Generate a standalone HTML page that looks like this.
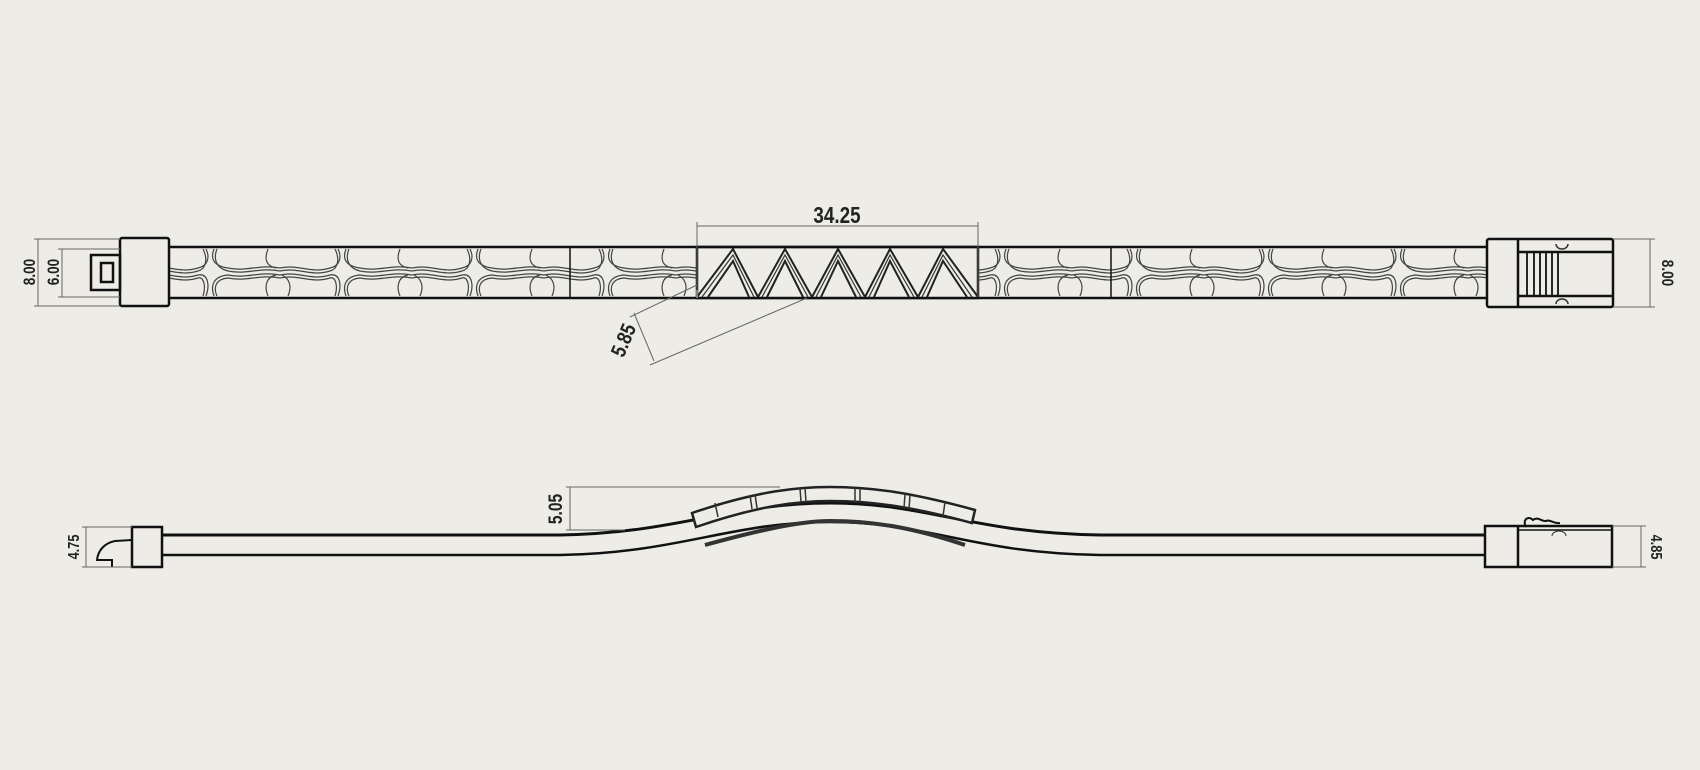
<!DOCTYPE html>
<html><head><meta charset="utf-8"><style>
html,body{margin:0;padding:0;background:#edece7;}
svg{display:block}
text{font-family:"Liberation Sans",sans-serif;font-weight:bold;fill:#222;}
</style></head><body>
<svg width="1700" height="770" viewBox="0 0 1700 770" xmlns="http://www.w3.org/2000/svg">
<defs>
<pattern id="wv" x="148" y="247" width="132" height="51" patternUnits="userSpaceOnUse">
<g fill="none" stroke="#444" stroke-width="1.2">
<path d="M0 21 C20 17 30 27 50 21 C60 19 62 10 58 2 M66 2 C62 12 66 19 80 21 C100 25 110 17 132 21"/>
<path d="M0 24 C20 20 30 30 50 24 C58 22 60 12 55 2 M69 2 C65 12 68 21 80 24 C100 28 110 20 132 24"/>
<path d="M0 28 C20 24 30 34 50 28 C60 26 62 38 58 49 M66 49 C62 38 66 29 80 28 C100 32 110 24 132 28"/>
<path d="M0 31 C20 27 30 37 50 31 C56 29 58 40 55 49 M69 49 C65 40 68 32 80 31 C100 35 110 27 132 31"/>
<path d="M120 2 C116 12 118 19 128 21 M128 28 C118 30 116 40 120 49"/>
<path d="M8 49 C12 40 10 32 2 28"/>
</g>
</pattern>
</defs>
<rect width="1700" height="770" fill="#edece7"/>
<!-- TOP STRIP -->
<rect x="148" y="247" width="1340" height="51" fill="url(#wv)" stroke="#111" stroke-width="2.5"/>
<line x1="570" y1="247" x2="570" y2="298" stroke="#111" stroke-width="1.5"/>
<line x1="1111" y1="247" x2="1111" y2="298" stroke="#111" stroke-width="1.5"/>
<rect x="697" y="249" width="281" height="48" fill="#edece7"/>
<g fill="none" stroke="#222" stroke-width="2">
<path d="M697 297 L733 249 L758 297 L785 249 L812 297 L838 249 L865 297 L890 249 L918 297 L943 249 L978 297"/>
<path d="M708 297 L733 261 L749 297 M767 297 L785 261 L803 297 M821 297 L838 261 L856 297 M874 297 L890 261 L909 297 M927 297 L943 261 L967 297"/>
</g>
<g fill="none" stroke="#333" stroke-width="1.2">
<path d="M702 297 L733 255 L754 297 M762 297 L785 255 L808 297 M816 297 L838 255 L861 297 M869 297 L890 255 L914 297 M922 297 L943 255 L972 297"/>
</g>
<rect x="697" y="247" width="281" height="51" fill="none" stroke="#111" stroke-width="2.5"/>
<line x1="697" y1="247" x2="697" y2="298" stroke="#edece7" stroke-width="1"/>
<!-- left connector top -->
<rect x="120" y="238" width="49" height="68" rx="2" fill="#edece7" stroke="#111" stroke-width="2.5"/>
<rect x="91" y="255" width="29" height="35" fill="none" stroke="#111" stroke-width="2.5"/>
<rect x="101" y="263" width="12" height="19" fill="none" stroke="#111" stroke-width="2.5"/>
<g stroke="#666" stroke-width="1" fill="none">
<line x1="34" y1="239" x2="120" y2="239"/><line x1="34" y1="306" x2="120" y2="306"/>
<line x1="38" y1="239" x2="38" y2="306"/>
<line x1="58" y1="249" x2="120" y2="249"/><line x1="58" y1="297" x2="120" y2="297"/>
<line x1="62" y1="249" x2="62" y2="297"/>
</g>
<text transform="translate(35,272) rotate(-90) scale(0.8,1)" font-size="17" text-anchor="middle">8.00</text>
<text transform="translate(59,272) rotate(-90) scale(0.8,1)" font-size="17" text-anchor="middle">6.00</text>
<!-- right connector top -->
<rect x="1487" y="239" width="126" height="68" rx="2" fill="#edece7" stroke="#111" stroke-width="2.5"/>
<line x1="1518" y1="239" x2="1518" y2="307" stroke="#111" stroke-width="2.5"/>
<line x1="1518" y1="252" x2="1613" y2="252" stroke="#111" stroke-width="2.5"/>
<line x1="1518" y1="296" x2="1613" y2="296" stroke="#111" stroke-width="2.5"/>
<g stroke="#111" stroke-width="1.8"><line x1="1527" y1="252" x2="1527" y2="296"/><line x1="1534" y1="252" x2="1534" y2="296"/><line x1="1540" y1="252" x2="1540" y2="296"/><line x1="1546" y1="252" x2="1546" y2="296"/><line x1="1552" y1="252" x2="1552" y2="296"/><line x1="1558" y1="252" x2="1558" y2="296"/></g>
<path d="M1556 244 a6 5 0 0 0 12 0 M1556 304 a6 5 0 0 1 12 0" fill="none" stroke="#333" stroke-width="1.5"/>
<g stroke="#666" stroke-width="1"><line x1="1613" y1="239" x2="1655" y2="239"/><line x1="1613" y1="307" x2="1655" y2="307"/><line x1="1650" y1="239" x2="1650" y2="307"/></g>
<text transform="translate(1662,273) rotate(90) scale(0.8,1)" font-size="17" text-anchor="middle">8.00</text>
<!-- 34.25 -->
<g stroke="#666" stroke-width="1"><line x1="697" y1="222" x2="697" y2="290"/><line x1="978" y1="222" x2="978" y2="297"/><line x1="697" y1="226" x2="978" y2="226"/>
<line x1="697" y1="285" x2="630" y2="317"/><line x1="807" y1="298" x2="650" y2="365"/><line x1="634" y1="313" x2="654" y2="361"/></g>
<text transform="translate(837,223) scale(0.82,1)" font-size="23" text-anchor="middle">34.25</text>
<text transform="translate(630,343) rotate(-67) scale(0.82,1)" font-size="21" text-anchor="middle">5.85</text>
<!-- BOTTOM -->
<path d="M162 535 L560 535 C680 533 730 503 830 503 C930 503 970 533 1100 535 L1487 535" fill="none" stroke="#111" stroke-width="3"/>
<path d="M162 555 L560 555 C680 553 730 522 830 522 C930 522 970 553 1100 555 L1487 555" fill="none" stroke="#111" stroke-width="2.5"/>
<path d="M705 545 C760 530 800 521 830 521 C880 521 920 530 965 545" fill="none" stroke="#333" stroke-width="4"/>
<path d="M692 513 C760 490 800 487 830 487 C870 487 910 492 975 510 L972 523 C910 506 870 501 830 501 C800 501 760 505 696 527 Z" fill="#edece7" stroke="#222" stroke-width="2.5"/>
<g stroke="#333" stroke-width="1.5"><line x1="715" y1="503" x2="718" y2="517"/><line x1="750" y1="495" x2="752" y2="509"/><line x1="755" y1="494" x2="757" y2="508"/><line x1="800" y1="488" x2="801" y2="502"/><line x1="805" y1="488" x2="806" y2="502"/><line x1="855" y1="488" x2="855" y2="502"/><line x1="860" y1="488" x2="860" y2="502"/><line x1="905" y1="494" x2="904" y2="508"/><line x1="910" y1="495" x2="909" y2="509"/><line x1="945" y1="502" x2="943" y2="516"/></g>
<rect x="132" y="527" width="30" height="40" fill="#edece7" stroke="#111" stroke-width="2.5"/>
<path d="M132 540 L115 541 C105 543 98 550 97 560 L112 560 L112 567" fill="none" stroke="#111" stroke-width="2"/>
<g stroke="#666" stroke-width="1"><line x1="82" y1="527" x2="132" y2="527"/><line x1="82" y1="567" x2="132" y2="567"/><line x1="86" y1="527" x2="86" y2="567"/></g>
<text transform="translate(79,547) rotate(-90) scale(0.8,1)" font-size="16" text-anchor="middle">4.75</text>
<rect x="1485" y="526" width="127" height="41" fill="#edece7" stroke="#111" stroke-width="2.5"/>
<line x1="1518" y1="526" x2="1518" y2="567" stroke="#111" stroke-width="2.5"/>
<line x1="1518" y1="530" x2="1612" y2="530" stroke="#111" stroke-width="1.5"/>
<path d="M1526 527 C1522 520 1528 515 1533 520 C1538 516 1542 522 1546 521 C1550 519 1554 524 1560 523" fill="none" stroke="#111" stroke-width="2"/>
<path d="M1552 536 a7 5 0 0 1 14 0" fill="none" stroke="#333"/>
<g stroke="#666" stroke-width="1"><line x1="1612" y1="526" x2="1646" y2="526"/><line x1="1612" y1="567" x2="1646" y2="567"/><line x1="1641" y1="526" x2="1641" y2="567"/></g>
<text transform="translate(1651,547) rotate(90) scale(0.8,1)" font-size="16" text-anchor="middle">4.85</text>
<g stroke="#666" stroke-width="1"><line x1="566" y1="487" x2="780" y2="487"/><line x1="566" y1="530" x2="625" y2="530"/><line x1="570" y1="487" x2="570" y2="530"/></g>
<text transform="translate(562,509) rotate(-90) scale(0.82,1)" font-size="19" text-anchor="middle">5.05</text>
</svg>
</body></html>
